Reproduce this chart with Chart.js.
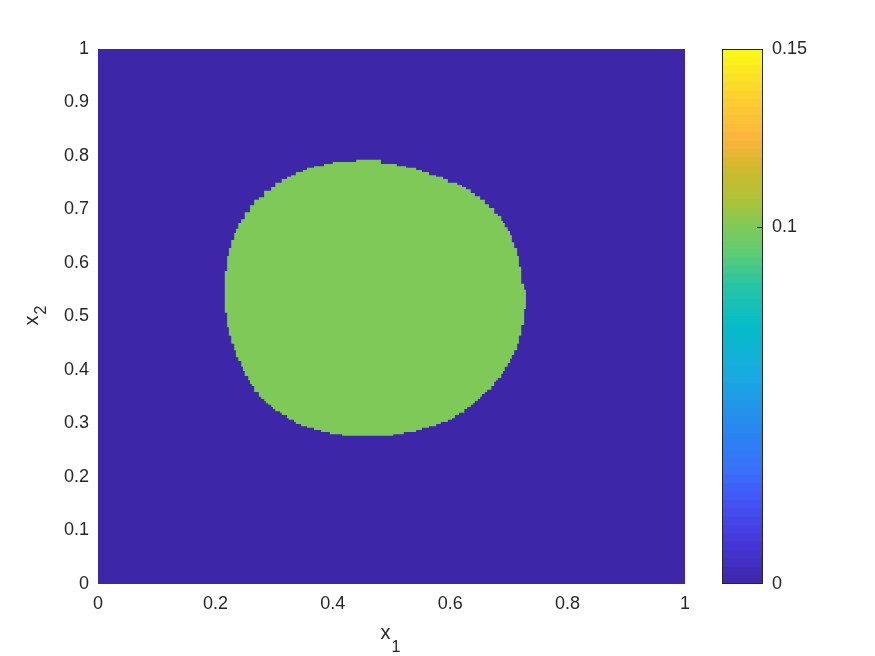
<!DOCTYPE html>
<html>
<head>
<meta charset="utf-8">
<script src="https://cdn.jsdelivr.net/npm/chart.js@4.4.1/dist/chart.umd.min.js"></script>
<style>
  html, body { margin: 0; padding: 0; background: #fff; }
  #wrap { position: relative; width: 875px; height: 656px; }
  #wrap canvas { position: absolute; left: 0; top: 0; }
</style>
</head>
<body>
<div id="wrap">
  <canvas id="field" width="875" height="656"></canvas>
  <canvas id="cbar" width="875" height="656"></canvas>
</div>
<script>
// field values: background cells = 0, blob cells = 0.1
const bgValue = 0;
const blobValue = 0.1;
const cMin = 0;
const cMax = 0.15;

// domain outline (x1, x2)
const domainX = [0, 1, 1, 0];
const domainY = [0, 0, 1, 1];

// blob outline: staircase corners, going round from the top
const blobX = [
  0.440,
  0.440, 0.400, 0.385, 0.368, 0.356, 0.349, 0.337, 0.329, 0.322, 0.313, 0.302, 0.295,
  0.283, 0.274, 0.266, 0.259, 0.250, 0.244, 0.239, 0.235, 0.232, 0.227, 0.223, 0.220, 0.216,
  0.220, 0.223, 0.227, 0.232, 0.235, 0.239, 0.244, 0.247, 0.250, 0.256, 0.259, 0.262,
  0.266, 0.274, 0.278, 0.283, 0.286, 0.290, 0.295, 0.298, 0.302, 0.310, 0.313, 0.322,
  0.325, 0.334, 0.337, 0.346, 0.356, 0.368, 0.380, 0.395, 0.416,
  0.503, 0.521, 0.542, 0.552, 0.564, 0.576, 0.584, 0.596, 0.603, 0.608, 0.615, 0.624,
  0.629, 0.635, 0.639, 0.642, 0.647, 0.651, 0.654, 0.659, 0.663, 0.670, 0.675, 0.678,
  0.681, 0.687, 0.690, 0.693, 0.698, 0.702, 0.705, 0.709, 0.714, 0.717, 0.721, 0.726,
  0.729, 0.726, 0.721, 0.717, 0.714, 0.709, 0.705, 0.702, 0.698, 0.693, 0.690, 0.687,
  0.681, 0.675, 0.666, 0.659, 0.651, 0.642, 0.635, 0.627, 0.620, 0.612, 0.596, 0.588,
  0.576, 0.564, 0.552, 0.542, 0.525, 0.509, 0.482
];
const blobY = [
  0.793,
  0.789, 0.785, 0.781, 0.778, 0.774, 0.770, 0.764, 0.761, 0.757, 0.750, 0.742, 0.735,
  0.723, 0.718, 0.708, 0.695, 0.682, 0.675, 0.664, 0.656, 0.643, 0.628, 0.613, 0.585, 0.507,
  0.480, 0.464, 0.449, 0.437, 0.424, 0.417, 0.406, 0.398, 0.389, 0.381, 0.374, 0.370,
  0.359, 0.350, 0.346, 0.342, 0.338, 0.335, 0.331, 0.327, 0.323, 0.320, 0.316, 0.310,
  0.307, 0.303, 0.299, 0.295, 0.292, 0.288, 0.284, 0.280, 0.277,
  0.280, 0.284, 0.288, 0.292, 0.295, 0.299, 0.303, 0.307, 0.310, 0.316, 0.320, 0.327,
  0.331, 0.335, 0.338, 0.342, 0.346, 0.350, 0.355, 0.359, 0.363, 0.370, 0.378, 0.381,
  0.385, 0.393, 0.398, 0.406, 0.413, 0.421, 0.428, 0.437, 0.449, 0.464, 0.484, 0.514,
  0.550, 0.561, 0.593, 0.613, 0.628, 0.639, 0.652, 0.660, 0.667, 0.675, 0.679, 0.688,
  0.692, 0.703, 0.710, 0.718, 0.725, 0.731, 0.738, 0.742, 0.746, 0.750, 0.757, 0.761,
  0.764, 0.770, 0.774, 0.778, 0.781, 0.785, 0.793
];

// tick labels
const xTicks = [0, 0.2, 0.4, 0.6, 0.8, 1];
const yTicks = [0, 0.1, 0.2, 0.3, 0.4, 0.5, 0.6, 0.7, 0.8, 0.9, 1];
const cbarTicks = [0, 0.1, 0.15];
const nBands = 64;

// parula-like colormap anchors (position, rgb)
const mapPos = [0, 0.08, 0.15, 0.22, 0.29, 0.39, 0.48, 0.56, 0.62, 0.667, 0.72, 0.78, 0.83, 0.90, 1];
const mapRGB = [
  [62, 38, 168], [70, 55, 220], [68, 82, 245], [55, 115, 250], [40, 135, 240],
  [25, 170, 225], [5, 188, 200], [40, 197, 165], [95, 205, 115], [127, 201, 89],
  [175, 195, 55], [210, 185, 45], [250, 180, 60], [252, 205, 50], [249, 251, 21]
];

function parula(t) {
  t = Math.max(0, Math.min(1, t));
  let i = 0;
  while (i < mapPos.length - 2 && t > mapPos[i + 1]) i++;
  const f = (t - mapPos[i]) / (mapPos[i + 1] - mapPos[i]);
  const c = mapRGB[i].map((v, k) => Math.round(v + (mapRGB[i + 1][k] - v) * f));
  return `rgb(${c[0]}, ${c[1]}, ${c[2]})`;
}
const colorOf = v => parula((v - cMin) / (cMax - cMin));

const FONT = "'Liberation Sans', Arial, sans-serif";
const TXT = '#262626';
const fmt = v => String(Number(v.toFixed(2)));

// axis titles with subscripts
const axisTitles = {
  id: 'axisTitles',
  afterDraw(chart) {
    const { ctx, chartArea } = chart;
    ctx.save();
    ctx.fillStyle = TXT;
    ctx.textBaseline = 'alphabetic';
    // x1
    const cx = (chartArea.left + chartArea.right) / 2;
    ctx.font = `20px ${FONT}`;
    ctx.textAlign = 'right';
    ctx.fillText('x', cx - 1, 639);
    ctx.font = `16px ${FONT}`;
    ctx.textAlign = 'left';
    ctx.fillText('1', cx, 652);
    // x2
    const cy = (chartArea.top + chartArea.bottom) / 2;
    ctx.translate(38, cy + 5);
    ctx.rotate(-Math.PI / 2);
    ctx.font = `20px ${FONT}`;
    ctx.textAlign = 'right';
    ctx.fillText('x', 6, 0);
    ctx.font = `16px ${FONT}`;
    ctx.textAlign = 'left';
    ctx.fillText('2', 7, 8);
    ctx.restore();
  }
};

const toPts = (xs, ys) => xs.map((x, i) => ({ x, y: ys[i] }));

new Chart(document.getElementById('field'), {
  type: 'scatter',
  data: {
    datasets: [
      {
        label: 'background',
        data: toPts(domainX, domainY),
        showLine: true,
        fill: 'shape',
        backgroundColor: colorOf(bgValue),
        borderWidth: 0,
        pointRadius: 0,
        order: 2
      },
      {
        label: 'blob',
        data: toPts(blobX, blobY),
        showLine: true,
        stepped: 'before',
        fill: 'shape',
        backgroundColor: colorOf(blobValue),
        borderWidth: 0,
        pointRadius: 0,
        order: 1
      }
    ]
  },
  options: {
    responsive: false,
    animation: false,
    layout: { padding: { left: 0, top: 49, right: 190, bottom: 0 } },
    plugins: { legend: { display: false }, tooltip: { enabled: false } },
    scales: {
      x: {
        type: 'linear', min: 0, max: 1,
        border: { display: false },
        grid: { display: false, drawTicks: false },
        afterBuildTicks: s => { s.ticks = xTicks.map(v => ({ value: v })); },
        afterFit: s => { s.height = 72; },
        ticks: { color: TXT, font: { family: FONT, size: 18 }, padding: 9, maxRotation: 0, callback: fmt }
      },
      y: {
        type: 'linear', min: 0, max: 1,
        border: { display: false },
        grid: { display: false, drawTicks: false },
        afterBuildTicks: s => { s.ticks = yTicks.map(v => ({ value: v })); },
        afterFit: s => { s.width = 98; },
        ticks: { color: TXT, font: { family: FONT, size: 18 }, padding: 9, callback: fmt }
      }
    }
  },
  plugins: [axisTitles]
});

// colorbar: one floating bar per colour band; each band reaches half a band
// under its neighbour so no seams show (the lower band is drawn on top)
const bandStep = (cMax - cMin) / nBands;
const bandSets = [];
for (let k = 0; k < nBands; k++) {
  const lo = cMin + k * bandStep;
  const c = colorOf(lo + bandStep / 2);
  bandSets.push({
    data: [[k === 0 ? lo : lo - bandStep / 2, lo + bandStep]],
    backgroundColor: c,
    borderWidth: 0,
    barPercentage: 1,
    categoryPercentage: 1
  });
}

const cbarFrame = {
  id: 'cbarFrame',
  afterDatasetsDraw(chart) {
    const { ctx, chartArea: a } = chart;
    const y = chart.scales.y;
    ctx.save();
    ctx.strokeStyle = TXT;
    ctx.lineWidth = 1;
    ctx.strokeRect(Math.round(a.left) + 0.5, Math.round(a.top) + 0.5,
      Math.round(a.right - a.left) - 1, Math.round(a.bottom - a.top) - 1);
    ctx.beginPath();
    cbarTicks.forEach(v => {
      if (v === cMin || v === cMax) return;
      const py = Math.round(y.getPixelForValue(v)) + 0.5;
      ctx.moveTo(a.right - 6, py);
      ctx.lineTo(a.right, py);
    });
    ctx.stroke();
    ctx.restore();
  }
};

new Chart(document.getElementById('cbar'), {
  type: 'bar',
  data: { labels: [''], datasets: bandSets },
  options: {
    responsive: false,
    animation: false,
    layout: { padding: { left: 722, top: 49, right: 0, bottom: 72 } },
    plugins: { legend: { display: false }, tooltip: { enabled: false } },
    scales: {
      x: { display: false, stacked: true },
      y: {
        position: 'right', min: cMin, max: cMax,
        border: { display: false },
        grid: { display: false, drawTicks: false },
        afterBuildTicks: s => { s.ticks = cbarTicks.map(v => ({ value: v })); },
        afterFit: s => { s.width = 112; },
        ticks: { color: TXT, font: { family: FONT, size: 18 }, padding: 9, callback: fmt }
      }
    }
  },
  plugins: [cbarFrame]
});
</script>
</body>
</html>
